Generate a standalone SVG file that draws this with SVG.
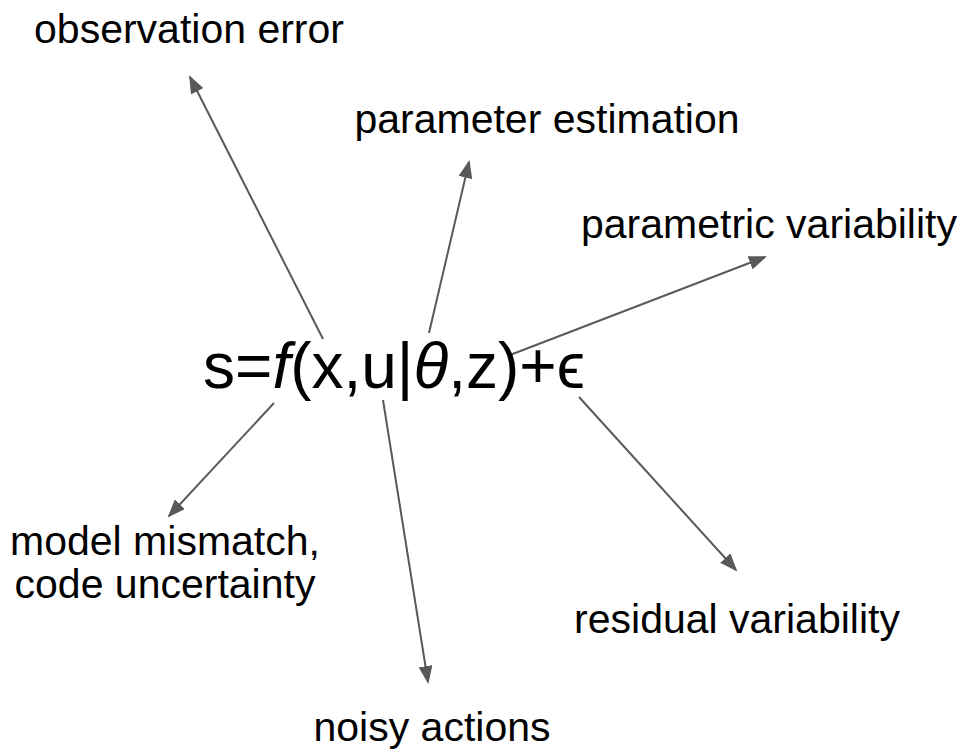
<svg xmlns="http://www.w3.org/2000/svg" width="963" height="753" viewBox="0 0 963 753">
<defs>
<style>
.lbl{font-family:"Liberation Sans",Arial,sans-serif;font-size:41px;fill:#000;text-anchor:middle}
.formula{font-family:"Liberation Sans",Arial,sans-serif;font-size:64px;fill:#000}
.arr{stroke:#595959;stroke-width:2;fill:none;marker-end:url(#ah)}
</style>
<marker id="ah" markerWidth="9" markerHeight="7" refX="8" refY="3.5" orient="auto" markerUnits="strokeWidth">
<path d="M0,0 L9,3.5 L0,7 z" fill="#595959"/>
</marker>
</defs>
<rect width="963" height="753" fill="#fff"/>
<g id="connectors">
<line class="arr" x1="323" y1="339" x2="190" y2="77"/>
<line class="arr" x1="429" y1="333" x2="469" y2="162"/>
<line class="arr" x1="510" y1="355" x2="765" y2="257"/>
<line class="arr" x1="274" y1="403" x2="169" y2="516"/>
<line class="arr" x1="579" y1="397" x2="736" y2="570"/>
<line class="arr" x1="383" y1="400" x2="428" y2="682"/>
</g>
<g id="center">
<text class="formula" x="203" y="388">s=<tspan font-style="italic">f</tspan>(x,u|<tspan font-style="italic">θ</tspan>,z)+ϵ</text>
</g>
<g id="observation-error"><text class="lbl" x="189" y="43">observation error</text></g>
<g id="parameter-estimation"><text class="lbl" x="547" y="133">parameter estimation</text></g>
<g id="parametric-variability"><text class="lbl" x="769" y="238">parametric variability</text></g>
<g id="model-mismatch"><text class="lbl" x="165" y="555">model mismatch,</text><text class="lbl" x="165" y="598">code uncertainty</text></g>
<g id="residual-variability"><text class="lbl" x="737" y="633">residual variability</text></g>
<g id="noisy-actions"><text class="lbl" x="432" y="741">noisy actions</text></g>
</svg>
